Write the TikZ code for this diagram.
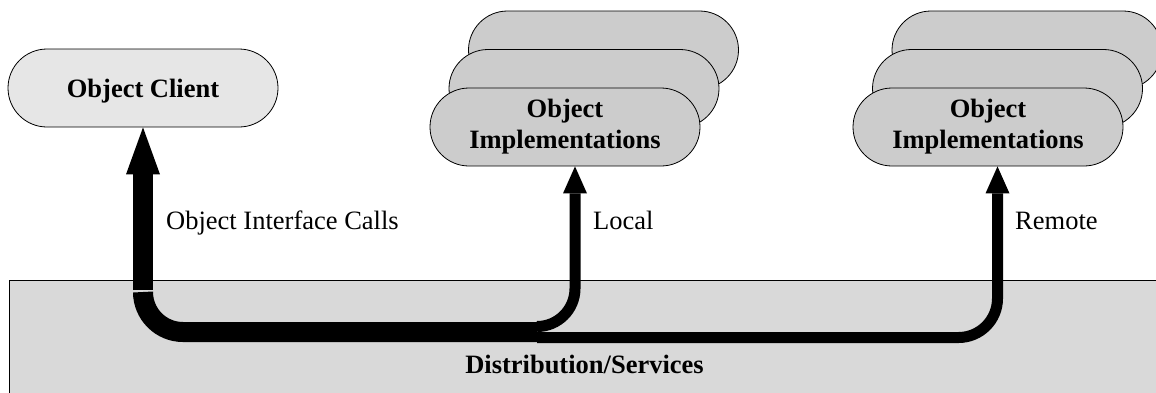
\documentclass[tikz,border=0pt]{standalone}
\usepackage{fontspec}
\setmainfont{Liberation Serif}
\usetikzlibrary{arrows.meta,shapes.misc}
\definecolor{clientgray}{HTML}{E6E6E6}
\definecolor{implgray}{HTML}{CCCCCC}
\definecolor{boxgray}{HTML}{D9D9D9}
\begin{document}
\begin{tikzpicture}[x=1pt,y=-1pt,
  pill/.style={rounded rectangle, draw=black, line width=0.8pt, minimum width=270pt,
    minimum height=78pt, inner sep=0pt, font=\fontsize{26.5}{31}\selectfont\bfseries, align=center},
  clientpill/.style={pill, fill=clientgray, text height=19pt, text depth=0pt},
  implpill/.style={pill, fill=implgray},
  lbl/.style={font=\fontsize{26.5}{31}\selectfont, anchor=base west, inner sep=0pt},
  boldlbl/.style={font=\fontsize{26.5}{31}\selectfont\bfseries, anchor=base, inner sep=0pt},
  bigline/.style={line width=20pt, line cap=butt},
  bigarrow/.style={bigline, -{Triangle[length=47pt,width=34pt,line width=0pt]}},
  smallline/.style={line width=11pt, line cap=butt},
  smallarrow/.style={smallline, -{Triangle[length=27pt,width=24pt,line width=0pt]}}
]
\useasboundingbox (0,0) rectangle (1156,392);
\clip (0,0) rectangle (1156,392);

% distribution box
\node[draw=black, line width=0.8pt, fill=boxgray, anchor=north west,
  minimum width=1170pt, minimum height=140pt, inner sep=0pt] (dist) at (8.5,280) {};
\node[boldlbl] (distlbl) at (584.5,373) {Distribution/Services};

% client
\node[clientpill] (client) at (143,88) {Object Client};

% local implementations stack
\node[implpill] (implLback) at (603.5,50) {};
\node[implpill] (implLmid) at (584,88.5) {};
\node[implpill] (implL) at (565,127) {Object\\Implementations};

% remote implementations stack
\node[implpill] (implRback) at (1027,50) {};
\node[implpill] (implRmid) at (1007.5,88.5) {};
\node[implpill] (implR) at (988,127) {Object\\Implementations};

% junction coordinates
\coordinate (jA) at (537,332);
\coordinate (jB) at (537,326.5);
\coordinate (jC) at (537,337.5);
\coordinate (cbend) at (143,292);
\coordinate (ctop) at (143,290);
\coordinate (la) at ([xshift=10pt]implL.south);
\coordinate (ra) at ([xshift=9.5pt]implR.south);

% connectors
\draw[smallarrow, rounded corners=39pt] (jC) -| (ra);
\draw[smallarrow, rounded corners=38pt] (jB) -| (la);
\draw[bigline, rounded corners=40pt] (jA) -| (cbend);
\draw[bigarrow] (ctop) -- (client.south);

% labels
\node[lbl] (lblcalls) at (166,229) {Object Interface Calls};
\node[lbl] (lbllocal) at (593,229) {Local};
\node[lbl] (lblremote) at (1015,229) {Remote};
\end{tikzpicture}
\end{document}
